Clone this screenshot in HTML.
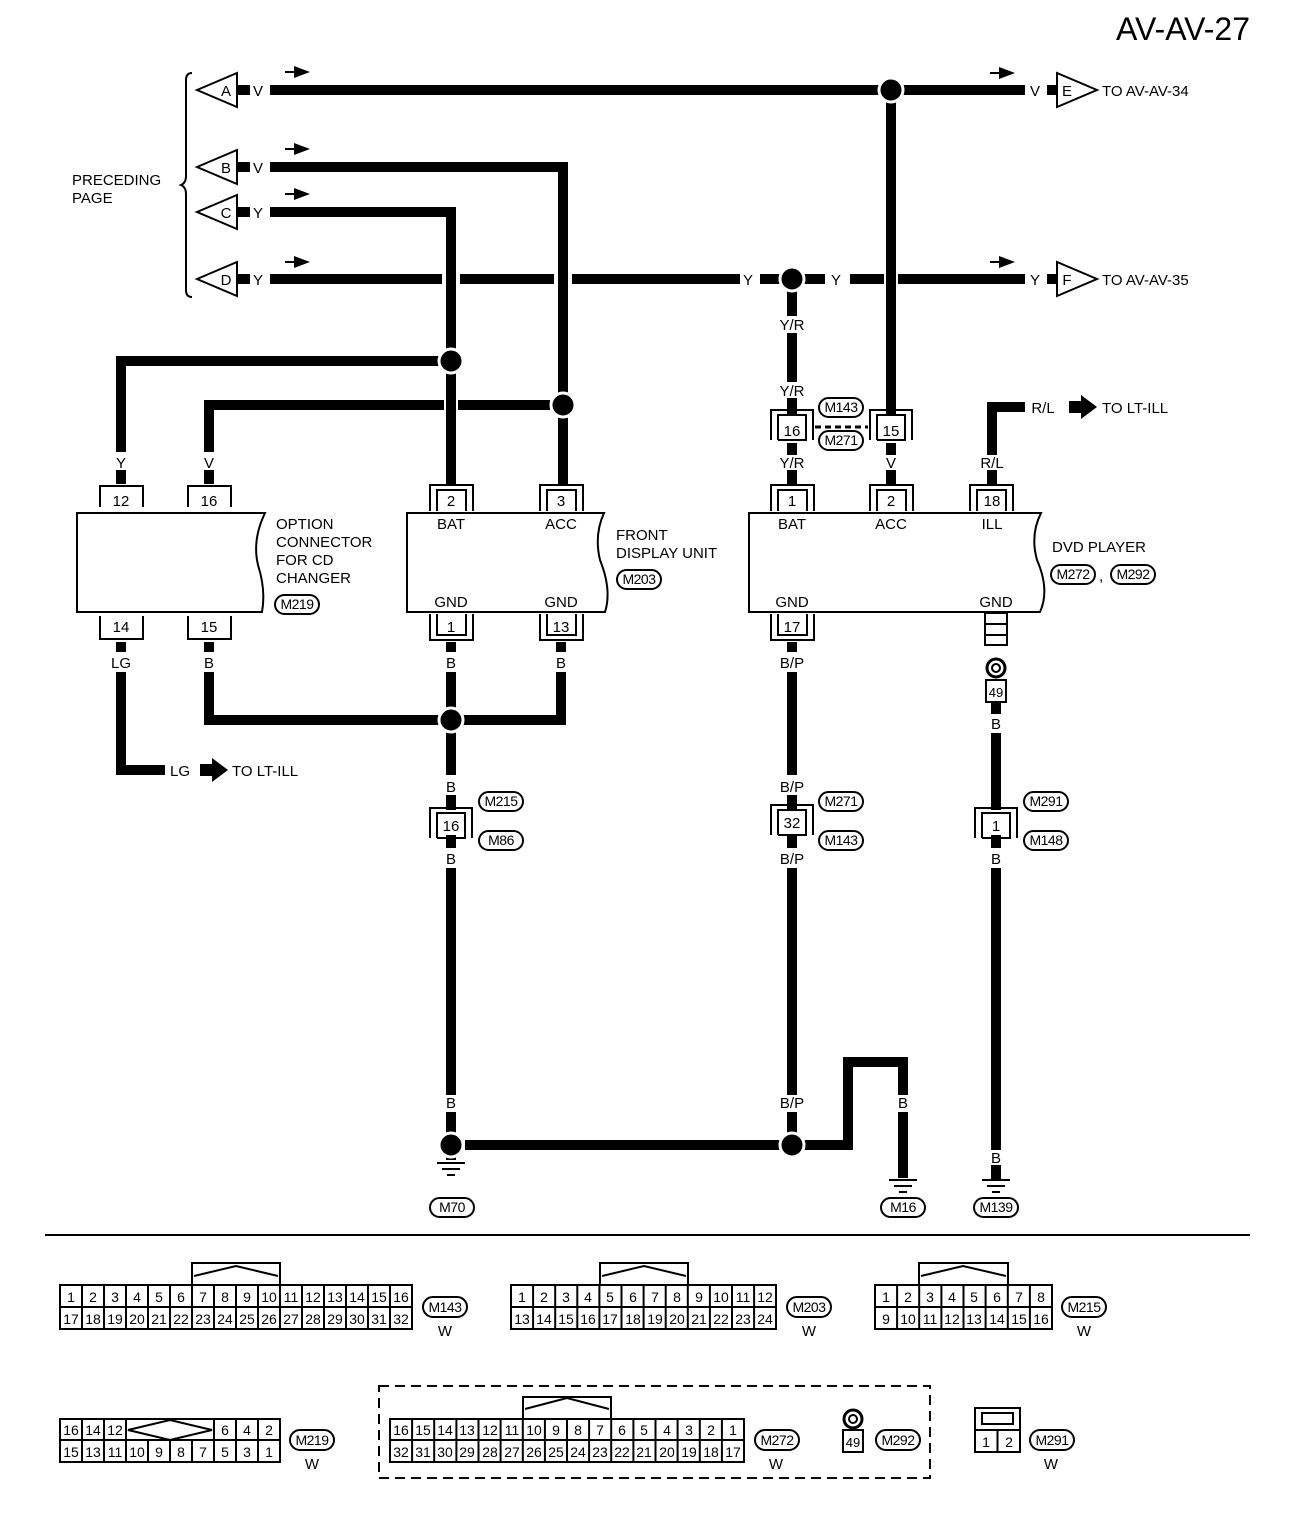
<!DOCTYPE html>
<html><head><meta charset="utf-8"><style>
html,body{margin:0;padding:0;background:#fff}
svg{display:block}
text{font-family:"Liberation Sans",sans-serif;fill:#000}
</style></head><body>
<svg width="1312" height="1526" viewBox="0 0 1312 1526" xmlns="http://www.w3.org/2000/svg">
<defs>
<marker id="ah" markerWidth="10" markerHeight="10" refX="0" refY="5" orient="auto" markerUnits="userSpaceOnUse"></marker>
</defs>
<text x="1250" y="40" font-size="32" text-anchor="end">AV-AV-27</text>

<!-- brace -->
<path d="M192,73 Q186,73 186,80 V176 Q186,183 181,185 Q186,187 186,194 V290 Q186,297 192,297" fill="none" stroke="#000" stroke-width="2"/>
<text x="72" y="185" font-size="15">PRECEDING</text>
<text x="72" y="203" font-size="15">PAGE</text>

<g fill="#fff" stroke="#000" stroke-width="2">
<polygon points="197,90 237,73 237,107"/>
<polygon points="197,167 237,150 237,184"/>
<polygon points="197,212 237,195 237,229"/>
<polygon points="197,279 237,262 237,296"/>
<polygon points="1057,73 1057,107 1097,90"/>
<polygon points="1057,262 1057,296 1097,279"/>
</g>
<g font-size="15" text-anchor="middle">
<text x="226" y="96">A</text><text x="226" y="173">B</text><text x="226" y="218">C</text><text x="226" y="285">D</text>
<text x="1067" y="96">E</text><text x="1067" y="285">F</text>
<text x="258" y="96">V</text><text x="258" y="173">V</text><text x="258" y="218">Y</text><text x="258" y="285">Y</text>
<text x="1035" y="96">V</text><text x="1035" y="285">Y</text>
<text x="748" y="285">Y</text><text x="836" y="285">Y</text>
</g>
<text x="1102" y="96" font-size="15">TO AV-AV-34</text>
<text x="1102" y="285" font-size="15">TO AV-AV-35</text>

<!-- small direction arrows -->
<g stroke="#000" stroke-width="2" fill="#000">
<line x1="285" y1="72" x2="295" y2="72"/><polygon points="294,66 310,72 294,78" stroke="none"/>
<line x1="285" y1="149" x2="295" y2="149"/><polygon points="294,143 310,149 294,155" stroke="none"/>
<line x1="285" y1="194" x2="295" y2="194"/><polygon points="294,188 310,194 294,200" stroke="none"/>
<line x1="285" y1="262" x2="295" y2="262"/><polygon points="294,256 310,262 294,268" stroke="none"/>
<line x1="990" y1="73" x2="1000" y2="73"/><polygon points="999,67 1015,73 999,79" stroke="none"/>
<line x1="990" y1="262" x2="1000" y2="262"/><polygon points="999,256 1015,262 999,268" stroke="none"/>
</g>

<!-- wires -->
<g fill="none" stroke="#000" stroke-width="10" stroke-linejoin="miter" stroke-linecap="butt">
<!-- stubs -->
<path d="M238,90H250M238,167H250M238,212H250M238,279H250M1047,90H1057M1047,279H1057"/>
<!-- A -->
<path d="M270,90H1025"/>
<path d="M891,102V412"/>
<!-- B -->
<path d="M270,167H563V480"/>
<!-- C -->
<path d="M270,212H451V480"/>
<!-- D with crossing gaps -->
<path d="M270,279H442M460,279H554M572,279H740M850,279H884M898,279H1025"/>
<path d="M760,279H780M804,279H825"/>
<!-- 792 vertical -->
<path d="M792,290V316M792,333V382M792,398V414M792,443V455M792,470V484"/>
<path d="M891,398V414M891,443V455M891,470V484"/>
<!-- Y to 12 -->
<path d="M440,361H121V452"/>
<!-- V to 16 -->
<path d="M550,405H458M444,405H209V452"/>
<!-- R/L -->
<path d="M1025,407H992V455M992,470V484"/>
<!-- pins short stubs -->
<path d="M121,470V484M209,470V484M451,470V484M563,470V484"/>
<!-- lower left -->
<path d="M121,642V652M121,672V770H165"/>
<path d="M209,642V652M209,672V720H440M463,720H561V672M561,642V652"/>
<path d="M451,642V652M451,672V775M451,795V810M451,835V848M451,868V1095M451,1112V1160"/>
<!-- 792 lower -->
<path d="M792,642V652M792,672V775M792,795V810M792,835V848M792,868V1095M792,1112V1134"/>
<path d="M465,1145H780M804,1145H848V1062H903V1095M903,1112V1178M848,1095V1062"/>
<path d="M848,1112V1145"/>
<!-- 996 lower -->
<path d="M996,702V714M996,733V810M996,835V848M996,868V1150M996,1165V1180"/>
</g>

<!-- junction dots -->
<g fill="#000" stroke="#fff" stroke-width="3">
<circle cx="891" cy="90" r="12"/>
<circle cx="792" cy="279" r="12"/>
<circle cx="451" cy="361" r="12"/>
<circle cx="563" cy="405" r="12"/>
<circle cx="451" cy="720" r="12"/>
<circle cx="451" cy="1145" r="12"/>
<circle cx="792" cy="1145" r="12"/>
</g>

<!-- wire labels -->
<g font-size="15" text-anchor="middle">
<text x="121" y="468">Y</text><text x="209" y="468">V</text><text x="451" y="468">Y</text><text x="563" y="468">V</text>
<text x="792" y="330">Y/R</text><text x="792" y="396">Y/R</text><text x="792" y="468">Y/R</text>
<text x="891" y="396">V</text><text x="891" y="468">V</text><text x="992" y="468">R/L</text>
<text x="1043" y="413">R/L</text>
<text x="121" y="668">LG</text><text x="209" y="668">B</text><text x="451" y="668">B</text><text x="561" y="668">B</text>
<text x="792" y="668">B/P</text><text x="996" y="729">B</text>
<text x="451" y="792">B</text><text x="451" y="864">B</text>
<text x="792" y="792">B/P</text><text x="792" y="864">B/P</text>
<text x="996" y="864">B</text>
<text x="451" y="1108">B</text><text x="792" y="1108">B/P</text><text x="848" y="1108">B</text><text x="903" y="1108">B</text>
<text x="996" y="1163">B</text>
<text x="180" y="776">LG</text>
</g>
<!-- big arrows -->
<g fill="#000">
<polygon points="200,764 212,764 212,758 228,770 212,782 212,776 200,776"/>
<polygon points="1069,401 1081,401 1081,395 1097,407 1081,419 1081,413 1069,413"/>
</g>
<text x="232" y="776" font-size="15">TO LT-ILL</text>
<text x="1102" y="413" font-size="15">TO LT-ILL</text>

<!-- component boxes -->
<g fill="none" stroke="#000" stroke-width="2">
<path d="M77,513H265Q252,540 258,565Q266,590 262,612H77Z"/>
<path d="M407,513H604Q594,535 600,560Q612,590 605,612H407Z"/>
<path d="M749,513H1041Q1030,535 1037,560Q1050,590 1040,612H749Z"/>
<!-- single pins option -->
<path d="M100,507V486H143V507M188,507V486H231V507"/>
<path d="M100,616V639H143V616M188,616V639H231V616"/>
</g>
<g font-size="15" text-anchor="middle">
<text x="121" y="506">12</text><text x="209" y="506">16</text>
<text x="121" y="632">14</text><text x="209" y="632">15</text>
</g>
<g font-size="15">
<text x="276" y="529">OPTION</text><text x="276" y="547">CONNECTOR</text><text x="276" y="565">FOR CD</text><text x="276" y="583">CHANGER</text>
<text x="616" y="540">FRONT</text><text x="616" y="558">DISPLAY UNIT</text>
<text x="1052" y="552">DVD PLAYER</text>
</g>
<g font-size="15" text-anchor="middle">
<text x="451" y="529">BAT</text><text x="561" y="529">ACC</text><text x="451" y="607">GND</text><text x="561" y="607">GND</text>
<text x="792" y="529">BAT</text><text x="891" y="529">ACC</text><text x="992" y="529">ILL</text>
<text x="792" y="607">GND</text><text x="996" y="607">GND</text>
</g>

<!-- double pins -->
<g fill="none" stroke="#000" stroke-width="2">
<!-- top pins (bracket top) -->
<path d="M430,511V485H473V511M437,511V490H466V511"/>
<path d="M540,511V485H583V511M547,511V490H576V511"/>
<path d="M771,511V485H814V511M778,511V490H807V511"/>
<path d="M870,511V485H913V511M877,511V490H906V511"/>
<path d="M970,511V485H1013V511M977,511V490H1006V511"/>
<!-- bottom pins -->
<path d="M430,614V640H473V614M437,614V635H466V614"/>
<path d="M540,614V640H583V614M547,614V635H576V614"/>
<path d="M771,614V640H814V614M778,614V635H807V614"/>
<!-- inline connectors -->
<path d="M771,440V410H813V440M778,440V415H806V440H778"/>
<path d="M870,440V410H912V440M877,440V415H905V440H877"/>
<path d="M430,838V808H472V838M437,838V813H465V838H437"/>
<path d="M771,835V805H813V835M778,835V810H806V835H778"/>
<path d="M975,838V808H1017V838M982,838V813H1010V838H982"/>
<line x1="815" y1="427" x2="868" y2="427" stroke-dasharray="6,4" stroke-width="3"/>
<!-- ladder -->
<rect x="985" y="613" width="22" height="32" fill="#fff"/>
<path d="M985,624H1007M985,635H1007"/>
<circle cx="996" cy="668" r="9" stroke-width="3"/><circle cx="996" cy="668" r="4"/>
<rect x="986" y="680" width="20" height="22" fill="#fff"/>
</g>
<g font-size="15" text-anchor="middle">
<text x="451" y="506">2</text><text x="561" y="506">3</text><text x="792" y="506">1</text><text x="891" y="506">2</text><text x="992" y="506">18</text>
<text x="451" y="632">1</text><text x="561" y="632">13</text><text x="792" y="632">17</text>
<text x="792" y="436">16</text><text x="891" y="436">15</text>
<text x="451" y="831">16</text><text x="792" y="828">32</text><text x="996" y="831">1</text>
<text x="996" y="697" font-size="13">49</text>
</g>

<!-- grounds -->
<g stroke="#000" stroke-width="2">
<path d="M437,1163H465M442,1169H460M447,1175H455"/>
<path d="M889,1180H917M894,1186H912M899,1192H907"/>
<path d="M982,1180H1010M987,1186H1005M992,1192H1000"/>
</g>

<!-- oval labels -->
<g fill="#fff" stroke="#000" stroke-width="2">
<rect x="275" y="595" width="44" height="19" rx="9.5"/>
<rect x="617" y="570" width="44" height="19" rx="9.5"/>
<rect x="1051" y="565" width="44" height="19" rx="9.5"/>
<rect x="1111" y="565" width="44" height="19" rx="9.5"/>
<rect x="819" y="398" width="44" height="19" rx="9.5"/>
<rect x="819" y="431" width="44" height="19" rx="9.5"/>
<rect x="479" y="792" width="44" height="19" rx="9.5"/>
<rect x="479" y="831" width="44" height="19" rx="9.5"/>
<rect x="819" y="792" width="44" height="19" rx="9.5"/>
<rect x="819" y="831" width="44" height="19" rx="9.5"/>
<rect x="1024" y="792" width="44" height="19" rx="9.5"/>
<rect x="1024" y="831" width="44" height="19" rx="9.5"/>
<rect x="430" y="1198" width="44" height="19" rx="9.5"/>
<rect x="881" y="1198" width="44" height="19" rx="9.5"/>
<rect x="974" y="1198" width="44" height="19" rx="9.5"/>
</g>
<g font-size="14" text-anchor="middle" letter-spacing="-0.5">
<text x="297" y="609">M219</text><text x="639" y="584">M203</text><text x="1073" y="579">M272</text><text x="1133" y="579">M292</text>
<text x="841" y="412">M143</text><text x="841" y="445">M271</text>
<text x="501" y="806">M215</text><text x="501" y="845">M86</text>
<text x="841" y="806">M271</text><text x="841" y="845">M143</text>
<text x="1046" y="806">M291</text><text x="1046" y="845">M148</text>
<text x="452" y="1212">M70</text><text x="903" y="1212">M16</text><text x="996" y="1212">M139</text>
</g>
<text x="1099" y="581" font-size="15">,</text>

<line x1="45" y1="1235" x2="1250" y2="1235" stroke="#000" stroke-width="2"/>

<!-- connector tables -->
<g fill="none" stroke="#000" stroke-width="2">
<!-- M143 -->
<rect x="60" y="1285" width="352" height="44"/><line x1="60" y1="1307" x2="412" y2="1307"/>
<path d="M82,1285V1329M104,1285V1329M126,1285V1329M148,1285V1329M170,1285V1329M192,1285V1329M214,1285V1329M236,1285V1329M258,1285V1329M280,1285V1329M302,1285V1329M324,1285V1329M346,1285V1329M368,1285V1329M390,1285V1329"/>
<path d="M192,1285V1263H280V1285M194,1276L236,1266L278,1276"/>
<!-- M203 -->
<rect x="511" y="1285" width="265" height="44"/><line x1="511" y1="1307" x2="776" y2="1307"/>
<path d="M533.1,1285V1329M555.2,1285V1329M577.3,1285V1329M599.4,1285V1329M621.5,1285V1329M643.6,1285V1329M665.7,1285V1329M687.8,1285V1329M709.9,1285V1329M732,1285V1329M754.1,1285V1329"/>
<path d="M600,1285V1263H688V1285M602,1276L644,1266L686,1276"/>
<!-- M215 -->
<rect x="875" y="1285" width="177" height="44"/><line x1="875" y1="1307" x2="1052" y2="1307"/>
<path d="M897.1,1285V1329M919.2,1285V1329M941.4,1285V1329M963.5,1285V1329M985.6,1285V1329M1007.8,1285V1329M1029.9,1285V1329"/>
<path d="M919,1285V1263H1008V1285M921,1276L963,1266L1006,1276"/>
<!-- M219 -->
<rect x="60" y="1419" width="220" height="43"/><line x1="60" y1="1440" x2="280" y2="1440"/>
<path d="M82,1419V1462M104,1419V1462M126,1419V1462M214,1419V1462M236,1419V1462M258,1419V1462M148,1440V1462M170,1440V1462M192,1440V1462"/>
<path d="M128,1430L170,1420L212,1430L170,1440Z"/>
<!-- dashed box -->
<rect x="379" y="1386" width="551" height="92" stroke-dasharray="10,6" stroke-width="2"/>
<!-- M272 -->
<rect x="390" y="1419" width="354" height="43"/><line x1="390" y1="1440" x2="744" y2="1440"/>
<path d="M412.1,1419V1462M434.2,1419V1462M456.4,1419V1462M478.5,1419V1462M500.6,1419V1462M522.8,1419V1462M544.9,1419V1462M567,1419V1462M589.1,1419V1462M611.2,1419V1462M633.4,1419V1462M655.5,1419V1462M677.6,1419V1462M699.8,1419V1462M721.9,1419V1462"/>
<path d="M523,1419V1397H611V1419M525,1409L567,1398L609,1409"/>
<circle cx="853" cy="1419" r="9" stroke-width="3"/><circle cx="853" cy="1419" r="4"/>
<rect x="843" y="1430" width="20" height="22"/>
<!-- M291 -->
<rect x="975" y="1408" width="45" height="44"/><line x1="975" y1="1430" x2="1020" y2="1430"/><line x1="997.5" y1="1430" x2="997.5" y2="1452"/>
<rect x="982" y="1413" width="31" height="11"/>
</g>
<g font-size="14" text-anchor="middle">
<text x="71" y="1302">1</text><text x="93" y="1302">2</text><text x="115" y="1302">3</text><text x="137" y="1302">4</text><text x="159" y="1302">5</text><text x="181" y="1302">6</text><text x="203" y="1302">7</text><text x="225" y="1302">8</text><text x="247" y="1302">9</text><text x="269" y="1302">10</text><text x="291" y="1302">11</text><text x="313" y="1302">12</text><text x="335" y="1302">13</text><text x="357" y="1302">14</text><text x="379" y="1302">15</text><text x="401" y="1302">16</text>
<text x="71" y="1324">17</text><text x="93" y="1324">18</text><text x="115" y="1324">19</text><text x="137" y="1324">20</text><text x="159" y="1324">21</text><text x="181" y="1324">22</text><text x="203" y="1324">23</text><text x="225" y="1324">24</text><text x="247" y="1324">25</text><text x="269" y="1324">26</text><text x="291" y="1324">27</text><text x="313" y="1324">28</text><text x="335" y="1324">29</text><text x="357" y="1324">30</text><text x="379" y="1324">31</text><text x="401" y="1324">32</text>

<text x="522" y="1302">1</text><text x="544" y="1302">2</text><text x="566" y="1302">3</text><text x="588" y="1302">4</text><text x="610" y="1302">5</text><text x="633" y="1302">6</text><text x="655" y="1302">7</text><text x="677" y="1302">8</text><text x="699" y="1302">9</text><text x="721" y="1302">10</text><text x="743" y="1302">11</text><text x="765" y="1302">12</text>
<text x="522" y="1324">13</text><text x="544" y="1324">14</text><text x="566" y="1324">15</text><text x="588" y="1324">16</text><text x="610" y="1324">17</text><text x="633" y="1324">18</text><text x="655" y="1324">19</text><text x="677" y="1324">20</text><text x="699" y="1324">21</text><text x="721" y="1324">22</text><text x="743" y="1324">23</text><text x="765" y="1324">24</text>

<text x="886" y="1302">1</text><text x="908" y="1302">2</text><text x="930" y="1302">3</text><text x="952" y="1302">4</text><text x="974" y="1302">5</text><text x="997" y="1302">6</text><text x="1019" y="1302">7</text><text x="1041" y="1302">8</text>
<text x="886" y="1324">9</text><text x="908" y="1324">10</text><text x="930" y="1324">11</text><text x="952" y="1324">12</text><text x="974" y="1324">13</text><text x="997" y="1324">14</text><text x="1019" y="1324">15</text><text x="1041" y="1324">16</text>

<text x="71" y="1435">16</text><text x="93" y="1435">14</text><text x="115" y="1435">12</text><text x="225" y="1435">6</text><text x="247" y="1435">4</text><text x="269" y="1435">2</text>
<text x="71" y="1457">15</text><text x="93" y="1457">13</text><text x="115" y="1457">11</text><text x="137" y="1457">10</text><text x="159" y="1457">9</text><text x="181" y="1457">8</text><text x="203" y="1457">7</text><text x="225" y="1457">5</text><text x="247" y="1457">3</text><text x="269" y="1457">1</text>

<text x="401" y="1435">16</text><text x="423" y="1435">15</text><text x="445" y="1435">14</text><text x="467" y="1435">13</text><text x="490" y="1435">12</text><text x="512" y="1435">11</text><text x="534" y="1435">10</text><text x="556" y="1435">9</text><text x="578" y="1435">8</text><text x="600" y="1435">7</text><text x="622" y="1435">6</text><text x="644" y="1435">5</text><text x="667" y="1435">4</text><text x="689" y="1435">3</text><text x="711" y="1435">2</text><text x="733" y="1435">1</text>
<text x="401" y="1457">32</text><text x="423" y="1457">31</text><text x="445" y="1457">30</text><text x="467" y="1457">29</text><text x="490" y="1457">28</text><text x="512" y="1457">27</text><text x="534" y="1457">26</text><text x="556" y="1457">25</text><text x="578" y="1457">24</text><text x="600" y="1457">23</text><text x="622" y="1457">22</text><text x="644" y="1457">21</text><text x="667" y="1457">20</text><text x="689" y="1457">19</text><text x="711" y="1457">18</text><text x="733" y="1457">17</text>

<text x="853" y="1447" font-size="13">49</text>
<text x="986" y="1447">1</text><text x="1009" y="1447">2</text>
</g>
<g fill="#fff" stroke="#000" stroke-width="2">
<rect x="423" y="1297" width="44" height="20" rx="10"/>
<rect x="787" y="1297" width="44" height="20" rx="10"/>
<rect x="1062" y="1297" width="44" height="20" rx="10"/>
<rect x="290" y="1430" width="44" height="20" rx="10"/>
<rect x="755" y="1430" width="44" height="20" rx="10"/>
<rect x="876" y="1430" width="44" height="20" rx="10"/>
<rect x="1030" y="1430" width="44" height="20" rx="10"/>
</g>
<g font-size="14" text-anchor="middle" letter-spacing="-0.5">
<text x="445" y="1312">M143</text><text x="809" y="1312">M203</text><text x="1084" y="1312">M215</text>
<text x="312" y="1445">M219</text><text x="777" y="1445">M272</text><text x="898" y="1445">M292</text><text x="1052" y="1445">M291</text>
</g>
<g font-size="15" text-anchor="middle">
<text x="445" y="1336">W</text><text x="809" y="1336">W</text><text x="1084" y="1336">W</text>
<text x="312" y="1469">W</text><text x="776" y="1469">W</text><text x="1051" y="1469">W</text>
</g>
</svg>
</body></html>
